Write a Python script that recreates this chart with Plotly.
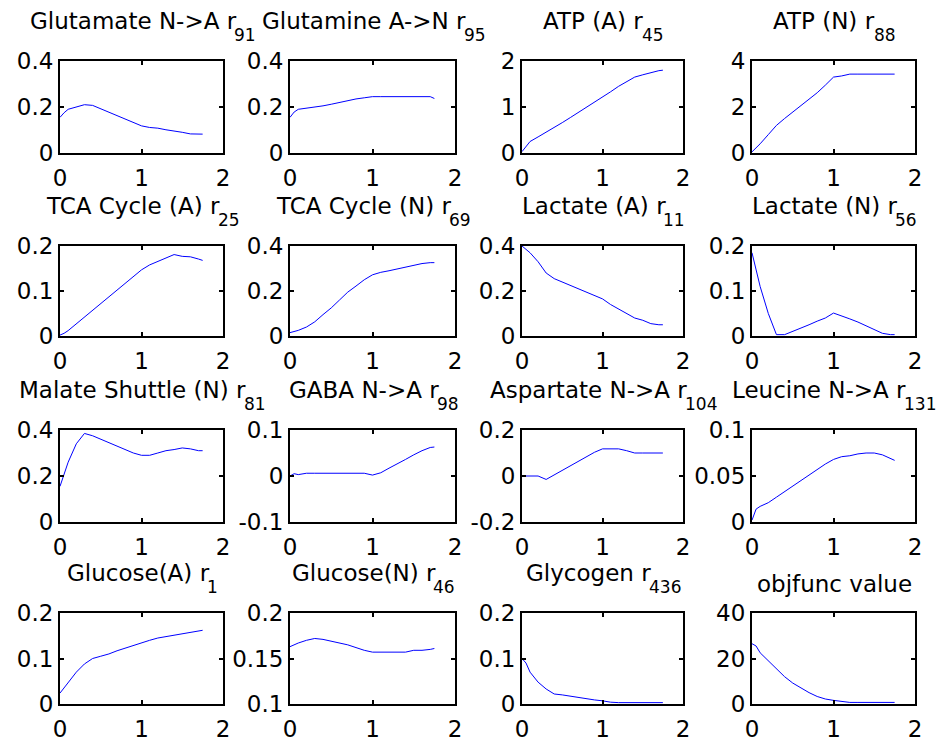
import plotly.graph_objects as go

# ---------------- data ----------------
t = [0, 0.05, 0.1, 0.2, 0.3, 0.4, 0.5, 0.6, 0.7, 0.8, 0.9, 1.0, 1.1, 1.2, 1.3, 1.4, 1.5, 1.6, 1.7, 1.75]

glutamate_na = [0.155, 0.175, 0.19, 0.2, 0.21, 0.207, 0.192, 0.178, 0.163, 0.148, 0.133, 0.118, 0.111, 0.108, 0.101, 0.097, 0.09, 0.083, 0.082, 0.082]
glutamine_an = [0.155, 0.178, 0.19, 0.195, 0.197, 0.205, 0.212, 0.22, 0.228, 0.235, 0.24, 0.245, 0.245, 0.245, 0.245, 0.245, 0.245, 0.245, 0.245, 0.237]
atp_a = [0.03, 0.15, 0.25, 0.35, 0.45, 0.55, 0.66, 0.77, 0.88, 1.0, 1.1, 1.22, 1.33, 1.45, 1.55, 1.65, 1.7, 1.75, 1.79, 1.8]
atp_n = [0.05, 0.22, 0.4, 0.8, 1.2, 1.5, 1.78, 2.05, 2.35, 2.62, 2.95, 3.3, 3.35, 3.43, 3.43, 3.43, 3.43, 3.43, 3.43, 3.43]
tca_a = [0.002, 0.006, 0.012, 0.027, 0.042, 0.058, 0.072, 0.087, 0.103, 0.118, 0.133, 0.147, 0.158, 0.166, 0.174, 0.181, 0.177, 0.176, 0.171, 0.168]
tca_n = [0.015, 0.02, 0.025, 0.04, 0.063, 0.095, 0.125, 0.16, 0.195, 0.222, 0.25, 0.272, 0.283, 0.29, 0.298, 0.305, 0.315, 0.322, 0.326, 0.326]
lactate_a = [0.4, 0.385, 0.37, 0.33, 0.28, 0.255, 0.24, 0.225, 0.21, 0.195, 0.18, 0.165, 0.14, 0.12, 0.1, 0.08, 0.07, 0.055, 0.05, 0.05]
lactate_n = [0.185, 0.15, 0.11, 0.05, 0.003, 0.003, 0.01, 0.018, 0.025, 0.033, 0.04, 0.051, 0.045, 0.038, 0.031, 0.023, 0.015, 0.006, 0.003, 0.003]
malate_n = [0.155, 0.21, 0.26, 0.34, 0.385, 0.375, 0.36, 0.345, 0.33, 0.315, 0.3, 0.29, 0.29, 0.3, 0.31, 0.315, 0.322, 0.318, 0.31, 0.31]
gaba_na = [0.0, 0.005, 0.003, 0.006, 0.006, 0.006, 0.006, 0.006, 0.006, 0.006, 0.006, 0.002, 0.007, 0.017, 0.026, 0.036, 0.046, 0.055, 0.062, 0.063]
aspartate_na = [0, 0, 0, 0, -0.015, 0.005, 0.025, 0.045, 0.064, 0.084, 0.103, 0.118, 0.118, 0.118, 0.11, 0.1, 0.1, 0.1, 0.1, 0.1]
leucine_na = [0.002, 0.014, 0.017, 0.021, 0.027, 0.033, 0.039, 0.045, 0.051, 0.057, 0.063, 0.068, 0.071, 0.072, 0.074, 0.075, 0.075, 0.073, 0.069, 0.067]
glucose_a = [0.024, 0.035, 0.046, 0.07, 0.088, 0.1, 0.105, 0.11, 0.117, 0.123, 0.129, 0.135, 0.14, 0.145, 0.148, 0.152, 0.155, 0.157, 0.16, 0.162]
glucose_n = [0.163, 0.165, 0.167, 0.17, 0.172, 0.171, 0.169, 0.167, 0.165, 0.162, 0.159, 0.157, 0.157, 0.157, 0.157, 0.157, 0.159, 0.159, 0.16, 0.161]
glycogen = [0.1, 0.09, 0.07, 0.048, 0.033, 0.022, 0.02, 0.017, 0.014, 0.012, 0.009, 0.007, 0.004, 0.003, 0.003, 0.003, 0.003, 0.003, 0.003, 0.003]
objfunc = [26.5, 25.5, 22.5, 19, 15.2, 12, 9.2, 7, 5, 3.3, 2.2, 1.6, 1.2, 0.7, 0.7, 0.7, 0.7, 0.7, 0.7, 0.7]

title_main = [
    "Glutamate N->A r", "Glutamine A->N r", "ATP (A) r", "ATP (N) r",
    "TCA Cycle (A) r", "TCA Cycle (N) r", "Lactate (A) r", "Lactate (N) r",
    "Malate Shuttle (N) r", "GABA N->A r", "Aspartate N->A r", "Leucine N->A r",
    "Glucose(A) r", "Glucose(N) r", "Glycogen r", "objfunc value",
]
title_sub = ["91", "95", "45", "88",
             "25", "69", "11", "56",
             "81", "98", "104", "131",
             "1", "46", "436", ""]
series = [glutamate_na, glutamine_an, atp_a, atp_n,
          tca_a, tca_n, lactate_a, lactate_n,
          malate_n, gaba_na, aspartate_na, leucine_na,
          glucose_a, glucose_n, glycogen, objfunc]
ytick_vals = [
    [0, 0.2, 0.4], [0, 0.2, 0.4], [0, 1, 2], [0, 2, 4],
    [0, 0.1, 0.2], [0, 0.2, 0.4], [0, 0.2, 0.4], [0, 0.1, 0.2],
    [0, 0.2, 0.4], [-0.1, 0, 0.1], [-0.2, 0, 0.2], [0, 0.05, 0.1],
    [0, 0.1, 0.2], [0.1, 0.15, 0.2], [0, 0.1, 0.2], [0, 20, 40],
]
ytick_text = [
    ["0", "0.2", "0.4"], ["0", "0.2", "0.4"], ["0", "1", "2"], ["0", "2", "4"],
    ["0", "0.1", "0.2"], ["0", "0.2", "0.4"], ["0", "0.2", "0.4"], ["0", "0.1", "0.2"],
    ["0", "0.2", "0.4"], ["-0.1", "0", "0.1"], ["-0.2", "0", "0.2"], ["0", "0.05", "0.1"],
    ["0", "0.1", "0.2"], ["0.1", "0.15", "0.2"], ["0", "0.1", "0.2"], ["0", "20", "40"],
]
xtick_vals = [0, 1, 2]
xtick_text = ["0", "1", "2"]

# ---------------- layout geometry (pixels) ----------------
W, H = 938, 743
col_px = [(60, 223), (290, 455), (522, 683), (752, 915)]
row_px = [(61, 153), (246, 336), (430, 522), (613, 704)]
FONT = "DejaVu Sans"
FS = 23
SFS = 17

# DejaVu Sans advance widths (em) for text-width estimation (title centring)
CW = {" ": 0.318, "(": 0.390, ")": 0.390, "-": 0.361, ">": 0.838, ".": 0.318,
      "A": 0.684, "B": 0.686, "C": 0.698, "G": 0.775, "L": 0.557, "M": 0.863, "N": 0.748,
      "P": 0.603, "S": 0.635, "T": 0.611,
      "a": 0.613, "b": 0.635, "c": 0.550, "e": 0.615, "f": 0.352, "g": 0.635, "h": 0.634,
      "i": 0.278, "j": 0.278, "l": 0.278, "m": 0.974, "n": 0.634, "o": 0.612, "p": 0.635,
      "r": 0.411, "s": 0.521, "t": 0.392, "u": 0.634, "v": 0.592, "y": 0.592}


def text_w(s, size):
    return sum(CW.get(ch, 0.636) for ch in s) * size


fig = go.Figure()
layout = dict(
    width=W, height=H,
    margin=dict(l=0, r=0, t=0, b=0, autoexpand=False),
    paper_bgcolor="white", plot_bgcolor="white",
    showlegend=False,
    font=dict(family=FONT, size=FS, color="black"),
)
annotations = []
for i in range(16):
    r, c = divmod(i, 4)
    n = "" if i == 0 else str(i + 1)
    x0, x1 = col_px[c]
    t0, b0 = row_px[r]
    xd = [x0 / W, x1 / W]
    yd = [1 - b0 / H, 1 - t0 / H]
    yv = ytick_vals[i]
    axcommon = dict(showline=True, linecolor="black", linewidth=2, mirror="ticks",
                    ticks="inside", ticklen=4, tickwidth=2, tickcolor="black",
                    showgrid=False, zeroline=False, fixedrange=True, automargin=False,
                    tickfont=dict(family=FONT, size=FS, color="black"))
    layout["xaxis" + n] = dict(domain=xd, range=[0, 2], tickmode="array", tickvals=xtick_vals,
                               ticktext=xtick_text, anchor="y" + n, ticklabelstandoff=3, **axcommon)
    layout["yaxis" + n] = dict(domain=yd, range=[yv[0], yv[-1]], tickmode="array", tickvals=yv,
                               ticktext=ytick_text[i], anchor="x" + n, ticklabelstandoff=0, **axcommon)
    fig.add_trace(go.Scatter(x=t, y=series[i], mode="lines", line=dict(color="#0000FF", width=1),
                             xaxis="x" + n, yaxis="y" + n, hoverinfo="skip"))

    # title: main text + lowered subscript (MATLAB TeX style)
    cx = (x0 + x1) / 2
    mw = text_w(title_main[i], FS)
    sw = text_w(title_sub[i], SFS) if title_sub[i] else 0
    gap = -2 if title_sub[i] else 0
    left = cx - (mw + gap + sw) / 2
    if title_sub[i]:
        main_base = t0 - 32
        sub_base = t0 - 20.5
    else:
        main_base = t0 - 21
        sub_base = None
    mid = main_base - 0.346 * FS
    annotations.append(dict(text=title_main[i], x=left / W, y=1 - mid / H, xref="paper", yref="paper",
                            xanchor="left", yanchor="middle", showarrow=False, borderpad=0,
                            font=dict(family=FONT, size=FS, color="black")))
    if title_sub[i]:
        smid = sub_base - 0.346 * SFS
        annotations.append(dict(text=title_sub[i], x=(left + mw + gap) / W, y=1 - smid / H,
                                xref="paper", yref="paper", xanchor="left", yanchor="middle",
                                showarrow=False, borderpad=0,
                                font=dict(family=FONT, size=SFS, color="black")))
layout["annotations"] = annotations
fig.update_layout(**layout)
fig.write_html("out.html", config={"displayModeBar": False, "staticPlot": True},
               post_script="document.body.style.margin='0px';document.body.style.overflow='hidden';")
